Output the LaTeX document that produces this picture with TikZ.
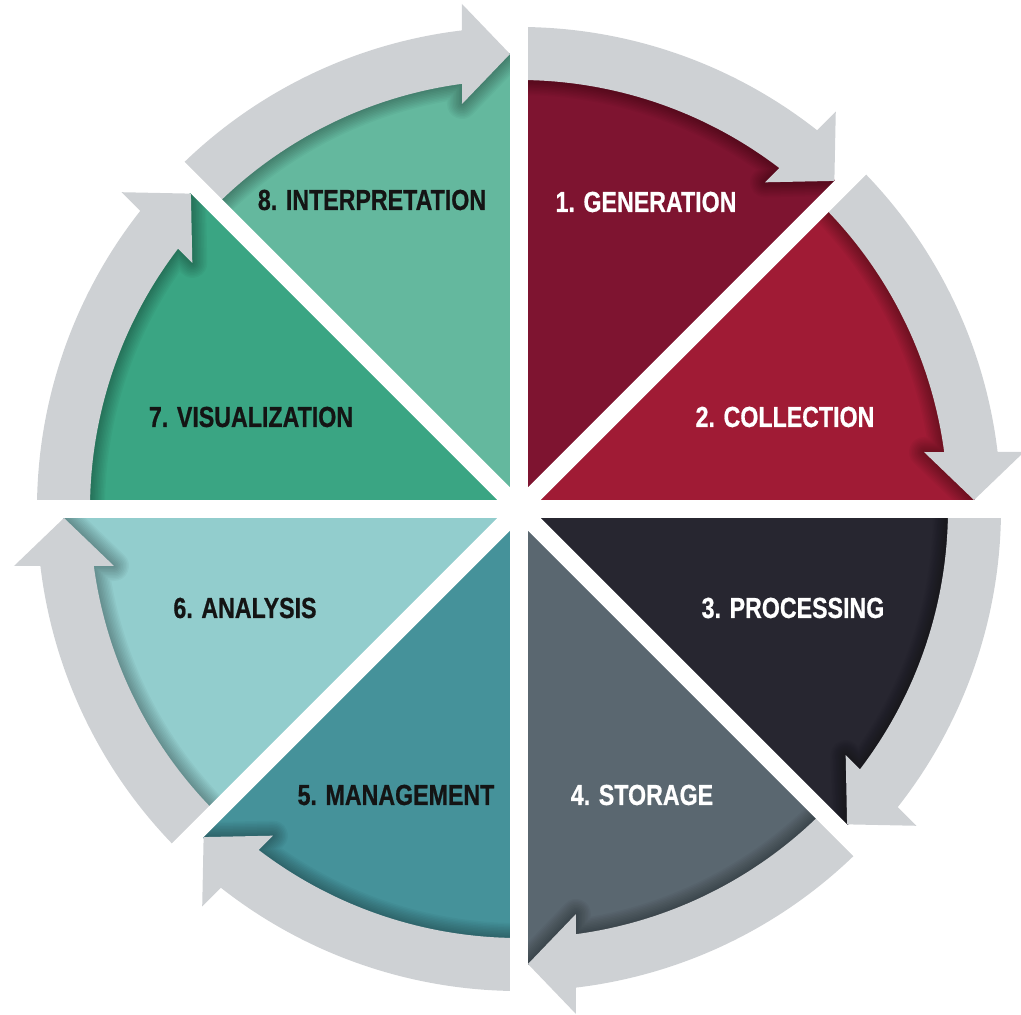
\documentclass[tikz,border=0pt]{standalone}
\usepackage{fontspec}
\newfontfamily\stagefont{Liberation Sans}[FakeStretch=0.8, FakeBold=0.6]
\usepackage{tikz}
\definecolor{genred}{HTML}{7E1430}
\definecolor{colred}{HTML}{A01B35}
\definecolor{procdark}{HTML}{272630}
\definecolor{storgrey}{HTML}{5A6770}
\definecolor{mgmtteal}{HTML}{45929A}
\definecolor{analight}{HTML}{92CDCD}
\definecolor{visgreen}{HTML}{3AA583}
\definecolor{intgreen}{HTML}{64B89E}
\definecolor{ringgrey}{HTML}{CED1D4}
\definecolor{labelink}{HTML}{141414}
\tikzset{
  band/.style={fill=ringgrey},
  stagelabel/.style={font=\stagefont\bfseries\fontsize{29}{31}\selectfont, inner sep=0pt},
}

\begin{document}
\begin{tikzpicture}[x=1pt,y=1pt]
\useasboundingbox (-519,-506) rectangle (502,509);
% wedges with their arrows, end of each wedge on angle 0 of the scope
\foreach \ang/\col in {45/genred, 0/colred, -45/procdark, -90/storgrey, -135/mgmtteal, 180/analight, 135/visgreen, 90/intgreen}{
  \begin{scope}[rotate=\ang]
  \fill[\col] (0,0) -- (456,0) arc[start angle=0, end angle=45, radius=456] -- cycle;
  % shadow of the arrow
  \begin{scope}
  \clip (0,0) -- (456,0) arc[start angle=0, end angle=45, radius=456] -- cycle;
  \foreach \w in {3,6,...,30}
    \draw[black, opacity=0.03, line width=\w, line join=round] (455,9) -- (405,57) -- (425.2,57) arc[start angle=7.63, end angle=50, radius=429];
  \end{scope}
  \fill[band] (455,9) -- (505,57) -- (478.6,57) arc[start angle=6.79, end angle=45, radius=482]
    -- (45:429) arc[start angle=45, end angle=7.63, radius=429] -- (405,57) -- cycle;
  \end{scope}
}
% gaps
\foreach \a in {0,45,90,135}
  \draw[white, line width=18] (\a:620) -- (\a+180:620);
%
\node[stagelabel, text=white] (generation) at (127,307) {1. GENERATION};
\node[stagelabel, text=white] (collection) at (266,92) {2. COLLECTION};
\node[stagelabel, text=white] (processing) at (274,-99) {3. PROCESSING};
\node[stagelabel, text=white] (storage) at (123,-286) {4. STORAGE};
\node[stagelabel, text=labelink] (management) at (-123,-286) {5. MANAGEMENT};
\node[stagelabel, text=labelink] (analysis) at (-274,-99) {6. ANALYSIS};
\node[stagelabel, text=labelink] (visualization) at (-268,92) {7. VISUALIZATION};
\node[stagelabel, text=labelink] (interpretation) at (-147,309) {8. INTERPRETATION};
\end{tikzpicture}
\end{document}
